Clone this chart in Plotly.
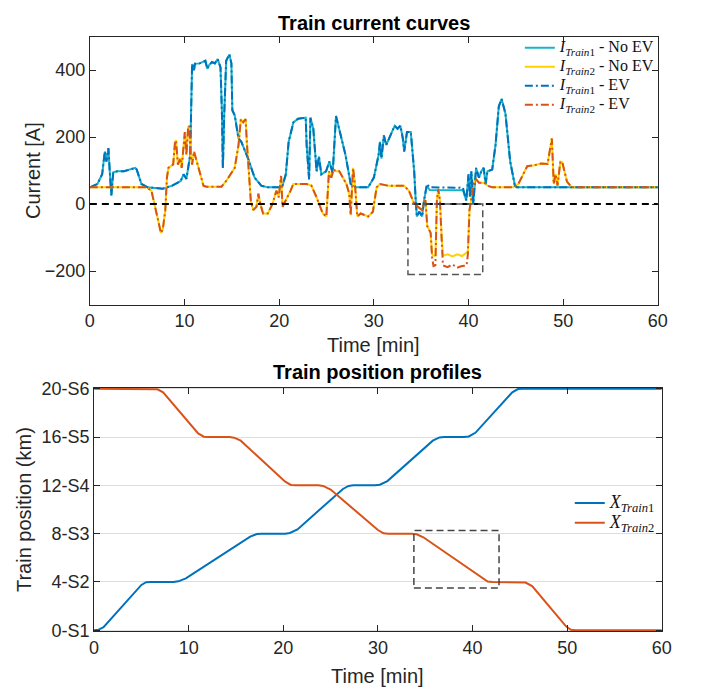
import plotly.graph_objects as go

# ---------------- data: train currents (top) ----------------
t1 = [0, 0.8, 1.3, 1.58, 1.75, 1.96, 2.1, 2.27, 2.47, 2.9, 3.6, 4.5, 4.8, 4.95, 5.45, 6.1, 7.0, 7.7, 8.7, 9.6,
      9.9, 10.2, 10.6, 10.8, 11.0, 11.1, 11.6, 12.2, 12.4, 12.6, 12.9, 13.2, 13.5, 13.8, 13.95, 14.05, 14.2, 14.4,
      14.74, 14.95, 15.05, 15.3, 15.7, 16.0, 16.7, 17.4, 18.1, 18.8, 20.3, 20.7, 21.0, 21.5, 22.0, 22.6, 22.8,
      22.9, 23.16, 23.3, 23.6, 23.95, 24.2, 24.45, 24.95, 25.3, 25.5, 25.65, 26.0, 26.35, 27.0, 27.55, 28.1, 29.4,
      30.0, 30.5, 30.65, 30.8, 31.06, 31.3, 31.86, 32.2, 32.5, 32.8, 33.06, 33.2, 33.5, 33.9, 34.05, 34.26, 34.4,
      34.54, 34.8, 35.1, 35.3, 35.6, 35.9, 37.0, 38.0, 39.0, 39.4, 39.76, 40.0, 40.15, 40.3, 40.5, 40.8, 41.1,
      41.35, 41.6, 41.8, 42.0, 42.5, 42.85, 43.2, 43.5, 43.9, 44.4, 44.9, 45.1, 60]
i1_ev = [50, 60, 89, 157, 127, 167, 98, 26, 95, 98, 98, 106, 108, 103, 60, 50, 48, 46, 55, 69,
         89, 75, 147, 418, 400, 419, 420, 428, 404, 415, 424, 420, 433, 408, 273, 108, 273, 428,
         447, 420, 280, 265, 196, 186, 137, 79, 55, 50, 50, 89, 186, 244, 255, 258, 258,
         176, 74, 258, 225, 98, 142, 89, 98, 127, 110, 93, 263, 225, 147, 60, 50, 50,
         79, 147, 186, 136, 205, 176, 215, 234, 225, 234, 196, 157, 215, 215, 166, 98, 21,
         -37, -23, -37, 11, 60, 50, 49, 50, 49, 50, 11, 89, 21, 98, 1, 108, 79,
         98, 108, 60, 98, 103, 176, 292, 314, 270, 127, 55, 50, 50]
i1_noev = [50, 60, 89, 157, 127, 167, 98, 26, 95, 98, 98, 106, 108, 103, 60, 50, 48, 46, 55, 69,
           89, 75, 147, 418, 400, 419, 420, 428, 404, 415, 424, 420, 433, 408, 273, 108, 273, 428,
           447, 420, 280, 265, 196, 186, 137, 79, 55, 50, 50, 89, 186, 244, 255, 258, 258,
           176, 74, 258, 225, 98, 142, 89, 98, 127, 110, 93, 263, 225, 147, 60, 50, 50,
           79, 147, 186, 136, 205, 176, 215, 234, 225, 234, 196, 157, 215, 215, 166, 98, 21,
           -37, -23, -37, 11, 55, 42, 41, 42, 41, 42, 11, 89, 21, 98, 1, 108, 79,
           98, 108, 60, 98, 103, 176, 292, 314, 270, 127, 55, 50, 50]

t2 = [0, 6.0, 6.5, 6.84, 7.2, 7.5, 7.7, 7.97, 8.14, 8.3, 8.8, 9.0, 9.1, 9.3, 9.56, 9.7, 10.03, 10.2, 10.38, 10.5,
      10.65, 10.8, 11.0, 11.2, 11.65, 12.0, 12.3, 13.9, 14.4, 15.3, 15.7, 15.95, 16.2, 16.45, 16.6, 16.8, 17.0,
      17.25, 17.6, 17.8, 18.0, 18.3, 18.8, 19.3, 19.7, 19.95, 20.2, 20.35, 20.7, 21.2, 21.5, 22.9, 23.4, 23.95,
      24.6, 24.98, 25.26, 25.5, 25.75, 26.0, 26.35, 26.7, 27.1, 27.4, 27.55, 27.8, 28.0, 28.25, 28.6, 29.4, 29.9,
      30.07, 30.3, 30.65, 31.5, 33.2, 33.7, 34.26, 34.8, 35.1, 35.3, 35.45, 35.64, 36.0, 36.15, 36.3, 36.5,
      36.66, 36.8, 36.98, 37.15, 37.3, 37.8, 38.3, 38.8, 39.3, 39.8, 39.93, 40.1, 40.26, 40.6, 40.8, 41.1,
      41.65, 42.0, 42.5, 44.7, 45.26, 45.77, 46.2, 46.96, 47.66, 48.35, 48.6, 48.8, 48.93, 49.0, 49.2, 49.4,
      49.7, 49.9, 50.4, 50.9, 60]
i2_ev = [50, 50, 40, 1, -47, -86, -76, -18, 79, 108, 118, 186, 190, 118, 137, 108, 215, 147, 229, 234,
         147, 118, 157, 137, 89, 55, 52, 52, 69, 108, 176, 254, 244, 254, 176, 98, 11,
         -18, -8, 31, 1, -28, -28, 1, 40, 20, 84, -8, 11, 40, 60, 60, 55, 20,
         -28, -37, 98, 79, 103, 98, 98, 79, 60, 31, -33, 108, 60, -37, -28, -37, -23,
         11, 50, 60, 55, 55, 40, 1, -13, -18, 6, 11, -66, -86, -160, -185, -183,
         11, 45, 11, -100, -183, -188, -180, -190, -185, -183, -150, -18, 11, 69, 74, 64,
         64, 55, 50, 50, 60, 89, 113, 116, 121, 120, 157, 196, 108, 60, 89, 55,
         127, 125, 67, 50, 50]
i2_noev = [50, 50, 40, 1, -47, -86, -76, -18, 79, 108, 118, 186, 190, 118, 137, 108, 215, 147, 229, 234,
           147, 118, 157, 137, 89, 55, 52, 52, 69, 108, 176, 254, 244, 254, 176, 98, 11,
           -18, -8, 31, 1, -28, -28, 1, 40, 20, 84, -8, 11, 40, 60, 60, 55, 20,
           -28, -37, 98, 79, 103, 98, 98, 79, 60, 31, -33, 108, 60, -37, -28, -37, -23,
           11, 50, 60, 55, 55, 40, 1, -13, -18, 6, 11, -66, -86, -150, -154, -154,
           11, 45, 11, -90, -154, -150, -156, -150, -155, -145, -140, -18, 11, 69, 74, 64,
           64, 55, 50, 50, 60, 89, 113, 116, 121, 120, 157, 196, 108, 60, 89, 55,
           127, 125, 67, 50, 50]

assert len(t1) == len(i1_ev) == len(i1_noev)
assert len(t2) == len(i2_ev) == len(i2_noev)

# ---------------- data: train positions (bottom) ----------------
tp1 = [0, 0.5, 1.0, 5.0, 5.5, 6.0, 8.4, 8.9, 9.7, 16.5, 17.2, 17.7, 20.2, 20.7, 21.5, 26.3, 26.9, 27.4,
       29.7, 30.2, 31.0, 35.8, 36.5, 37.0, 39.1, 39.6, 40.3, 44.2, 44.8, 45.3, 60]
x1 = [0, 0.05, 0.25, 3.75, 3.98, 4.0, 4.0, 4.05, 4.3, 7.75, 7.97, 8.0, 8.0, 8.05, 8.35, 11.7, 11.95, 12.0,
      12.0, 12.05, 12.35, 15.7, 15.97, 16.0, 16.0, 16.05, 16.35, 19.7, 19.97, 20.0, 20.0]
tp2 = [0, 6.2, 6.7, 7.3, 11.0, 11.6, 12.1, 14.3, 14.8, 15.5, 20.2, 20.8, 21.3, 23.7, 24.2, 25.0, 30.0, 30.6,
       31.1, 33.6, 34.1, 34.8, 41.0, 41.6, 42.1, 45.1, 45.6, 46.3, 49.9, 50.4, 50.9, 60]
x2 = [20, 20, 19.95, 19.7, 16.3, 16.03, 16.0, 16.0, 15.95, 15.7, 12.3, 12.03, 12.0, 12.0, 11.95, 11.65, 8.3, 8.03,
      8.0, 8.0, 7.95, 7.7, 4.3, 4.03, 4.0, 4.0, 3.95, 3.65, 0.3, 0.03, 0.0, 0.0]

x_ticks = [0, 10, 20, 30, 40, 50, 60]
cur_ticks = [-200, 0, 200, 400]
pos_ticks = [0, 4, 8, 12, 16, 20]
pos_labels = ["0-S1", "4-S2", "8-S3", "12-S4", "16-S5", "20-S6"]

zoom_cur = dict(t0=33.6, t1=41.5, y0=-210, y1=0)
zoom_pos = dict(t0=33.8, t1=42.8, y0=3.5, y1=8.25)

# ---------------- styling ----------------
W, H = 708, 698
AX = '#262626'
C_CYAN = '#17B4C9'
C_YEL = '#FFD200'
C_BLUE = '#0072BD'
C_ORG = '#D95319'
DASHDOT = '8px,3px,2px,3px'

def px_x(p):
    return p / W

def px_y(p):
    return 1 - p / H

def leg(sym, idx, suffix, size):
    s = "<i>%s</i><sub><i>Train</i>%d</sub>%s" % (sym, idx, suffix)
    return '<span style="font-size:%dpx">%s</span>' % (size, s)

fig = go.Figure()
fig.add_trace(go.Scatter(x=t1, y=i1_noev, mode='lines', name=leg('I', 1, ' - No EV', 16),
                         line=dict(color=C_CYAN, width=2), xaxis='x', yaxis='y'))
fig.add_trace(go.Scatter(x=t2, y=i2_noev, mode='lines', name=leg('I', 2, ' - No EV', 16),
                         line=dict(color=C_YEL, width=2), xaxis='x', yaxis='y'))
fig.add_trace(go.Scatter(x=t1, y=i1_ev, mode='lines', name=leg('I', 1, ' - EV', 16),
                         line=dict(color=C_BLUE, width=2, dash=DASHDOT), xaxis='x', yaxis='y'))
fig.add_trace(go.Scatter(x=t2, y=i2_ev, mode='lines', name=leg('I', 2, ' - EV', 16),
                         line=dict(color=C_ORG, width=2, dash=DASHDOT), xaxis='x', yaxis='y'))

fig.add_trace(go.Scatter(x=tp1, y=x1, mode='lines', name=leg('X', 1, '', 18),
                         line=dict(color=C_BLUE, width=2), xaxis='x2', yaxis='y2', legend='legend2'))
fig.add_trace(go.Scatter(x=tp2, y=x2, mode='lines', name=leg('X', 2, '', 18),
                         line=dict(color=C_ORG, width=2), xaxis='x2', yaxis='y2', legend='legend2'))

common = dict(showline=True, linecolor=AX, linewidth=1, mirror='ticks', ticks='inside', ticklen=6,
              tickcolor=AX, tickwidth=1, zeroline=False, tickfont=dict(size=18, color=AX))

top_x = [86.7, 667]
top_y = [29.3, 304]
bot_x = [91, 671]
bot_y = [389, 639]

fig.update_layout(
    width=W, height=H, margin=dict(l=0, r=0, t=0, b=0),
    plot_bgcolor='white', paper_bgcolor='white',
    font=dict(family='Liberation Sans, Arial, sans-serif', size=18, color=AX),
    xaxis=dict(domain=[px_x(top_x[0]), px_x(top_x[1])], range=[0, 60], tickvals=x_ticks,
               showgrid=False, anchor='y', **common),
    yaxis=dict(domain=[px_y(top_y[1]), px_y(top_y[0])], range=[-300, 500], tickvals=cur_ticks,
               showgrid=False, anchor='x', **common),
    xaxis2=dict(domain=[px_x(bot_x[0]), px_x(bot_x[1])], range=[0, 60], tickvals=x_ticks,
                showgrid=False, anchor='y2', **common),
    yaxis2=dict(domain=[px_y(bot_y[1]), px_y(bot_y[0])], range=[-0.1, 20.1], tickvals=pos_ticks,
                ticktext=pos_labels, showgrid=True, gridcolor='#DEDEDE', gridwidth=1, anchor='x2', **common),
    legend=dict(x=px_x(526), y=px_y(26), xanchor='left', yanchor='top', bgcolor='rgba(0,0,0,0)',
                font=dict(family='Liberation Serif, DejaVu Serif, serif', size=11.5, color='#111111'),
                itemwidth=30, tracegroupgap=0),
    legend2=dict(x=px_x(577), y=px_y(492), xanchor='left', yanchor='top', bgcolor='rgba(0,0,0,0)',
                 font=dict(family='Liberation Serif, DejaVu Serif, serif', size=13, color='#111111'),
                 itemwidth=30, tracegroupgap=0),
    showlegend=True,
)

# zero reference line and zoom boxes
fig.add_shape(type='line', xref='x', yref='y', x0=0, x1=60, y0=0, y1=0,
              line=dict(color='black', width=2, dash='7px,5px'))
fig.add_shape(type='rect', xref='x', yref='y', x0=zoom_cur['t0'], x1=zoom_cur['t1'],
              y0=zoom_cur['y0'], y1=zoom_cur['y1'], line=dict(color='#555555', width=1.5, dash='7px,4px'))
fig.add_shape(type='rect', xref='x2', yref='y2', x0=zoom_pos['t0'], x1=zoom_pos['t1'],
              y0=zoom_pos['y0'], y1=zoom_pos['y1'], line=dict(color='#444444', width=1.5, dash='7px,4px'))

def ann(text, xp, yp, size=20, bold=False, angle=0):
    fig.add_annotation(text=("<b>%s</b>" % text) if bold else text, xref='paper', yref='paper',
                       x=px_x(xp), y=px_y(yp), xanchor='center', yanchor='middle', showarrow=False,
                       textangle=angle, font=dict(size=size, color=AX if not bold else '#000000'))

ann("Train current curves", (top_x[0] + top_x[1]) / 2, 15, bold=True)
ann("Time [min]", (top_x[0] + top_x[1]) / 2, 345)
ann("Current [A]", 28, (top_y[0] + top_y[1]) / 2, angle=-90)
ann("Train position profiles", (bot_x[0] + bot_x[1]) / 2, 373, bold=True)
ann("Time [min]", (bot_x[0] + bot_x[1]) / 2, 685)
ann("Train position (km)", 20, (bot_y[0] + bot_y[1]) / 2, angle=-90)

fig.write_html("out.html")
